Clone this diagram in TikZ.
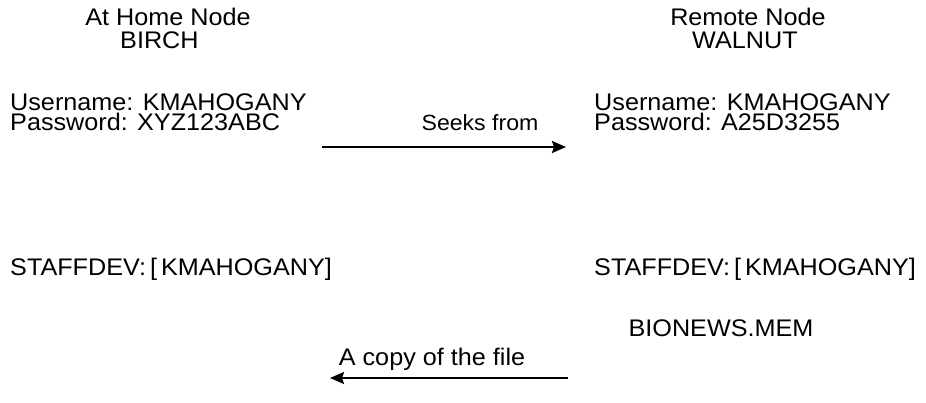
\documentclass[tikz,border=0pt]{standalone}
\usepackage{fontspec}
\setmainfont[FakeStretch=1.05]{Liberation Sans}
\usetikzlibrary{positioning}
\usetikzlibrary{arrows.meta}
\tikzset{
	label/.style={inner sep=0pt, font=\fontsize{24}{19.5}\selectfont},
	% account and directory lines
	dir/.style={label, anchor=base west, align=left},
	link/.style={label, anchor=base}
}

\begin{document}
\begin{tikzpicture}[x=1pt, y=-1pt]
			\useasboundingbox (0,0) rectangle (926,402);
			\node (homeT) [link] at (168,25) {At Home Node};
			\node (homeN) [dir] at (120,48) {BIRCH};
			\node (remT) [link] at (748,25) {Remote Node};
			\node (remN) [dir] at (692,48) {WALNUT};
			
			\node (acctL) [dir] at (10,130) {Username: KMAHOGANY\\Password: XYZ123ABC};
			\node (acctR) [dir] at (594,130) {Username: KMAHOGANY\\Password: A25D3255};
			
			\node (seeks) [link, font=\fontsize{22}{19}\selectfont] at (480,130) {Seeks from};
			\coordinate (s1) at (322,147);
			\coordinate (s2) at (566,147);
			
			\node (staffL) [dir] at (10,275) {STAFFDEV:\,[\,KMAHOGANY]};
			\node (staffR) [dir] at (594,275) {STAFFDEV:\,[\,KMAHOGANY]};
			\node (bio) [link] at (721,336) {BIONEWS.MEM};
			
			\node (copy) [link] at (432,365) {A copy of the file};
			\coordinate (c1) at (568,378);
			\coordinate (c2) at (330,378);
			
			\begin{scope}[line width=2pt, black, ->, >={Stealth[length=14pt, width=12pt, inset=2pt]}]
				\draw (s1) -- (s2);
				\draw (c1) -- (c2);
			\end{scope}
		\end{tikzpicture}
\end{document}
